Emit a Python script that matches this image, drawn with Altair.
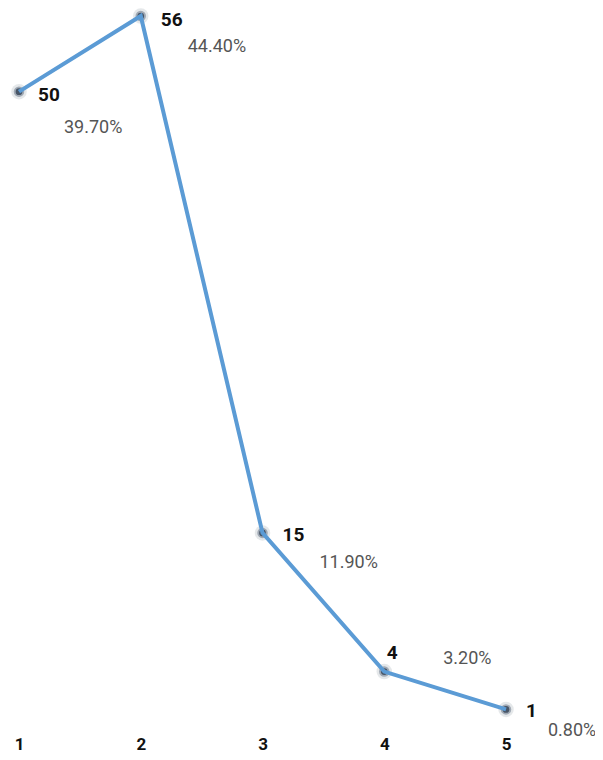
import altair as alt
import pandas as pd

categories = [1, 2, 3, 4, 5]
counts = [50, 56, 15, 4, 1]
percents = ["39.70%", "44.40%", "11.90%", "3.20%", "0.80%"]

df = pd.DataFrame({"cat": categories, "count": counts, "pct": percents})

FONT = "Roboto"
LINE = "#5b9bd5"

x = alt.X("cat:Q", scale=alt.Scale(domain=[1, 5], nice=False, zero=False),
          axis=alt.Axis(values=categories, format="d", title=None, domain=False, ticks=False,
                        grid=False, labelFont=FONT, labelFontSize=17, labelFontWeight="bold",
                        labelColor="#111111", labelPadding=27, labelBaseline="alphabetic",
                        labelFlush=False))
y = alt.Y("count:Q", scale=alt.Scale(domain=[0, 56], nice=False),
          axis=None)

base = alt.Chart(df).encode(x=x, y=y)

halo = base.mark_circle(size=240, color="#7f8a98", opacity=0.2)
mid = base.mark_circle(size=110, color="#5d6b80", opacity=0.5)
core = base.mark_circle(size=45, color="#3e4b5d", opacity=0.9)
line = base.mark_line(color=LINE, strokeWidth=4)

val_offsets = [(19, 3, "left"), (20, 4, "left"), (20, 2, "left"), (8, -19, "center"), (20, 2, "left")]
pct_offsets = [(45, 36), (47, 31), (57, 30), (59, -13), (42, 22)]

layers = [halo, mid, core, line]
for c, (dx, dy, al) in zip(categories, val_offsets):
    layers.append(base.transform_filter(alt.datum.cat == c).mark_text(
        font=FONT, fontSize=19, fontWeight="bold", color="#111111",
        align=al, baseline="middle", dx=dx, dy=dy).encode(text="count:Q"))
for c, (dx, dy) in zip(categories, pct_offsets):
    layers.append(base.transform_filter(alt.datum.cat == c).mark_text(
        font=FONT, fontSize=18, color="#555555",
        align="left", baseline="middle", dx=dx, dy=dy).encode(text="pct:N"))

chart = alt.layer(*layers).properties(
    width=487, height=706,
    autosize=alt.AutoSizeParams(type="none"),
    padding={"left": 11, "top": 8, "right": 89, "bottom": 30},
).configure_view(stroke=None)

chart.save("out.html", embed_options={"renderer": "svg", "actions": False})
